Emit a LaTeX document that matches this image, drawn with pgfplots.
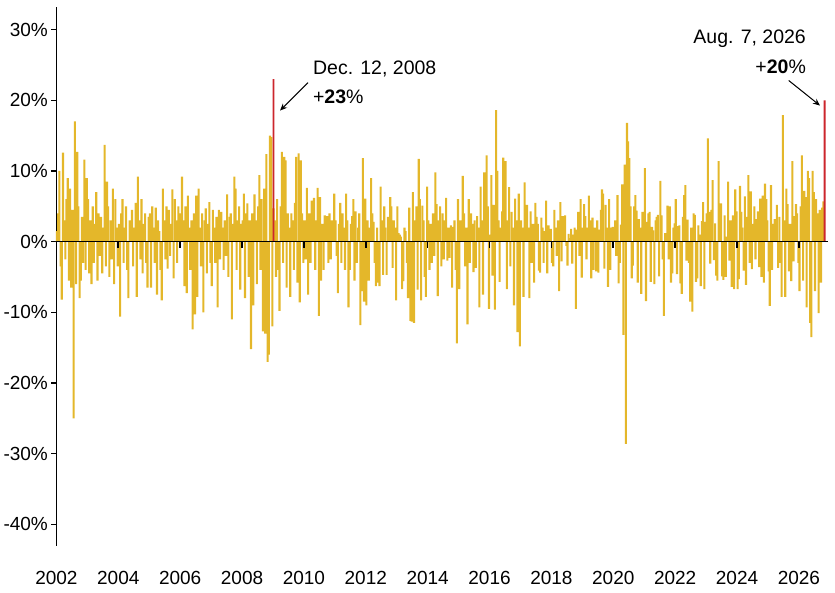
\documentclass[border=0pt]{standalone}
\usepackage{fontspec}
\setmainfont{Liberation Sans}
\usepackage{pgfplots}
\pgfplotsset{compat=1.18}
\usetikzlibrary{arrows.meta}
\definecolor{gold}{RGB}{228,183,42}
\definecolor{redbar}{RGB}{204,38,44}
\begin{document}
\begin{tikzpicture}
\path[use as bounding box] (0,0) rectangle (835bp,593bp);
\begin{axis}[at={(56.4bp,47bp)}, anchor=south west, scale only axis,
  width=771.6bp, height=539bp,
  xmin=2002, xmax=2026.94, ymin=-43.06, ymax=33.2,
  axis x line*=bottom, axis y line*=left,
  x axis line style={draw=none}, xtick style={draw=none},
  y axis line style={line width=1.4bp},
  ytick={-40,-30,-20,-10,0,10,20,30},
  yticklabels={-40\%,-30\%,-20\%,-10\%,0\%,10\%,20\%,30\%},
  ytick style={line width=1.2bp, black}, tick align=outside, major tick length=5bp,
  xtick={2002,2004,2006,2008,2010,2012,2014,2016,2018,2020,2022,2024,2026},
  xticklabels={2002,2004,2006,2008,2010,2012,2014,2016,2018,2020,2022,2024,2026},
  tick label style={font=\fontsize{19bp}{22bp}\selectfont, text=black},
  xticklabel style={yshift=-17bp},
  clip=false,
]
\addplot[ybar, bar width=2.1bp, bar shift=0bp, fill=gold, draw=none, mark=none] table[row sep=\\, x expr=2002.02+\coordindex/26, y index=0] {v\\
1.5\\ 4\\ 10\\ -3.5\\ -8.2\\ 12.6\\ 3\\ -2.5\\ 6\\ 9\\ -5.5\\ 7.5\\ -6.5\\ 4.5\\ -25\\ 17\\ -6\\ 12.7\\ 5\\ -8\\ -5.5\\ 3.5\\ -3\\ 11.6\\ -4\\ 9\\
6\\ -4.5\\ 3\\ -6\\ 5\\ -3\\ 2.5\\ 7\\ -5.5\\ 4\\ -2\\ 3.5\\ -4.5\\ 2\\ 13.7\\ -3.5\\ 8.5\\ 5\\ -5\\ 3\\ -2.5\\ 7.5\\ -6\\ 6\\ 2\\ -3.5\\
2.5\\ -10.6\\ 4\\ 6\\ -3\\ 2\\ 5\\ -4\\ -8\\ 3\\ 1.5\\ 4.5\\ -3.5\\ 2\\ 5.5\\ -7.8\\ 9.2\\ 3\\ -2.5\\ 6\\ -4.5\\ 2.5\\ 4\\ -3\\ -6.5\\ 3.5\\
4\\ -6.5\\ 5\\ 2\\ -3\\ 4.8\\ -7.5\\ 3\\ 1.5\\ -4\\ -8.3\\ 7.5\\ 3\\ -2.5\\ 5\\ -3.8\\ 4.5\\ -2\\ 2.5\\ 7.4\\ -5.2\\ 6\\ 3\\ -3\\ 5\\ 2\\
4\\ 9.2\\ 3\\ -6.3\\ 5\\ -7.3\\ 6.5\\ 2\\ -4\\ 3\\ -12.4\\ 4\\ -10.3\\ 6.5\\ -7.8\\ 7.5\\ 2\\ -3.5\\ 4\\ -10\\ 3\\ 4.7\\ -4.5\\ 2.5\\ 5.6\\ -3\\
-6.3\\ 4.5\\ 2\\ -3\\ 3.5\\ -9.3\\ 4.5\\ -2.5\\ 4.2\\ 2\\ -4\\ 3\\ -2\\ 6.7\\ -5\\ 3.5\\ 4\\ -11\\ 2.5\\ 9.2\\ 7.5\\ -4\\ 3\\ 5\\ -6.8\\ 2.5\\
3\\ 6.8\\ -8\\ 4\\ 5.4\\ -5\\ 3\\ -15.2\\ 4\\ -9\\ 6.7\\ 3\\ -6\\ 5\\ 9.4\\ -4\\ 6\\ -12.7\\ 7.5\\ -13\\ 12.4\\ -17\\ -16\\ 15\\ 14.8\\ -12\\
4.7\\ 3\\ -5\\ 6\\ -4\\ -9.8\\ 5\\ 12.7\\ -3\\ 12\\ 11.5\\ -6.5\\ 4\\ 2\\ -7.8\\ 4\\ 3\\ -4\\ 5.5\\ 12\\ -5.8\\ 12.5\\ -8.6\\ 11.5\\ 4\\ -3\\
3\\ -2.5\\ 7.6\\ -7.5\\ 4\\ -3\\ 5.8\\ 2\\ 6.2\\ -4\\ 3\\ 7.6\\ -10.5\\ 6.3\\ -5.5\\ 2.5\\ -4\\ 3.7\\ 2\\ 3.6\\ -3\\ 4\\ -2.5\\ 3\\ 1.5\\ 6.8\\
3\\ -2\\ -7.3\\ 2.5\\ 5.5\\ -3\\ 4\\ 2\\ -4\\ 6.8\\ 3\\ -9.3\\ -4\\ 2.5\\ 3.6\\ 6\\ -5.5\\ 4.3\\ -3\\ 2\\ 4\\ -11.8\\ -7\\ 11.8\\ -8.5\\ 6.1\\
-9\\ 3\\ -5.5\\ 2\\ 9\\ 4\\ 2.8\\ -3\\ -6.3\\ 2\\ -5.8\\ -6.3\\ 7.8\\ 3\\ -4.7\\ 5\\ 2\\ -4.7\\ 3.5\\ 2\\ 6.3\\ 5\\ -3.7\\ 3\\ 2\\ -8.3\\
5\\ 1.2\\ 1\\ 0.7\\ -6.7\\ -5.6\\ 2\\ 1.5\\ -3\\ -8\\ 4.8\\ -11.2\\ -11.3\\ 7\\ -11.5\\ 3\\ 5\\ -6.8\\ 11.7\\ 6\\ -8.3\\ 5.1\\ 3\\ -5\\ -7.8\\ 7.8\\
3\\ -4\\ 2.5\\ -3\\ 4\\ -2\\ 9.8\\ 5.3\\ -7.7\\ 3\\ 5\\ -3.5\\ 4\\ -2.5\\ 3\\ 6.2\\ -2.7\\ 2\\ -2.3\\ 2.3\\ -6.5\\ 2.1\\ 3\\ -4\\ -14.4\\ 6\\
-6.7\\ 3\\ 2\\ 9.3\\ 4\\ -3.5\\ 2\\ -11.7\\ 6\\ -3\\ 4\\ 2.5\\ -4.3\\ 3\\ -3.7\\ 3.6\\ 2\\ -9.3\\ 7.8\\ 3\\ -7.5\\ 9.8\\ 4\\ 12.2\\ 5\\ -9.5\\
1\\ 9.4\\ -4.8\\ 5.2\\ -9.6\\ 18.6\\ 10\\ 3\\ -5.7\\ 2\\ 4.3\\ 11.9\\ 5.2\\ 11.4\\ -6.7\\ 3\\ 7.7\\ -3.5\\ 4.2\\ 2\\ -9\\ 6.1\\ 3\\ -12.8\\ 6.8\\ -14.8\\
3\\ 2\\ -7.8\\ 8.4\\ 2.5\\ 5.2\\ 2\\ -8\\ 4.3\\ -3\\ 2.5\\ -5.8\\ 5.5\\ 3.5\\ 2.5\\ -4.1\\ -4.4\\ 3.4\\ 2\\ -3\\ 1.5\\ 5.8\\ -4.5\\ 2.3\\ 0.9\\ 1.8\\
-3\\ -3.5\\ 4.5\\ 2\\ -2\\ 3\\ -7\\ 5.6\\ -2.8\\ 3.6\\ 2\\ 3.7\\ -0.6\\ -3.4\\ 1.1\\ 0.5\\ 1.8\\ -3.1\\ 1\\ 2\\ -9.5\\ 1.7\\ 4.2\\ -2\\ 6\\ -5.1\\
2\\ 5.3\\ 3.6\\ -2.5\\ 2\\ 6.5\\ 3\\ -5.2\\ 3.4\\ -4\\ 2\\ -4.2\\ 3\\ -4.4\\ 1.7\\ 4.5\\ 7.4\\ 6.8\\ -3.8\\ 5.2\\ 2\\ -6.4\\ 6\\ -4\\ 2\\ 2.1\\
2\\ 3\\ -2\\ 6.6\\ -5.9\\ -3\\ 2.4\\ 8.1\\ -13.2\\ 10.9\\ -28.6\\ 16.8\\ 14.2\\ 11.8\\ 5\\ -5.2\\ -3.4\\ 5\\ 6.6\\ 4.4\\ -5.8\\ 3.2\\ 2\\ -7.4\\ 4.2\\ 3\\
10.4\\ -8.4\\ 2.8\\ 4\\ 4.2\\ -5.7\\ 2.1\\ 1.6\\ -6\\ 3\\ 3.5\\ 3.8\\ -4.9\\ 8.6\\ 3.7\\ -2.5\\ -10.5\\ 1.2\\ 0.5\\ 5.1\\ -2.5\\ 5\\ -5.8\\ -4.5\\ 2\\ 2.6\\
6\\ -4.6\\ 2.2\\ 2.3\\ -5.9\\ -7.4\\ 3.5\\ 6.6\\ 8\\ -2.7\\ 3.1\\ -3\\ -8.5\\ 2\\ -9.9\\ 4\\ 3.8\\ -5.7\\ -5.2\\ 2.3\\ 1\\ -6.3\\ 2.9\\ 5.6\\ -6.7\\ 2.8\\
4\\ 14.6\\ 4.2\\ -3.1\\ 4.5\\ 8.7\\ -2.6\\ 2.6\\ -4.8\\ -5.5\\ 11.4\\ 5.4\\ 5.4\\ -4.9\\ -5.4\\ 3.7\\ -5\\ 0.7\\ 8.5\\ -2.7\\ 3\\ -6.4\\ 3.7\\ -6.7\\ 7.4\\ 4.3\\
-6.7\\ -5.3\\ 7.9\\ 4.2\\ 2\\ -4.1\\ 6.4\\ -6.1\\ 3.5\\ 9.4\\ -3\\ 7.1\\ -3.9\\ 2.5\\ 5\\ -2.5\\ 3.2\\ 4.3\\ -3.6\\ 6.1\\ -5\\ 6.5\\ -5.8\\ 8.2\\ 6\\ 3\\
-4.2\\ -9.1\\ 8\\ -4\\ 2.5\\ 3.2\\ 2\\ 5.2\\ -3.7\\ 3.5\\ -3\\ -7.8\\ 17.9\\ 3\\ -7.8\\ 7.5\\ 5.3\\ -4.2\\ 2.5\\ -5.6\\ 11.4\\ -2.8\\ 3.6\\ 5.3\\ 4\\ -3\\
-7\\ 5\\ 12.2\\ -5.5\\ 7.2\\ 6.3\\ -9.3\\ 10\\ 9\\ -11.5\\ -13.5\\ 10\\ 7\\ -7\\ 6\\ 4\\ -10.1\\ 4.5\\ -5.8\\ 4.8\\ 5.7\\
};
\addplot[ybar, bar width=1.8bp, bar shift=0bp, fill=redbar, draw=none, mark=none] coordinates {(2009.02,23) (2026.83,20)};
\draw[line width=1.6bp] (axis cs:2002,0) -- (axis cs:2026.94,0);
\pgfplotsinvokeforeach{2004,2006,2008,2010,2012,2014,2016,2018,2020,2022,2024,2026}{\draw[line width=1.6bp] (axis cs:#1,0) -- ++(0bp,-6bp);}
\node[anchor=base west, inner sep=0, font=\fontsize{19.5bp}{22bp}\selectfont] at (axis cs:2010.29,23.7) {Dec. 12, 2008};
\node[anchor=base west, inner sep=0, font=\fontsize{19.5bp}{22bp}\selectfont] at (axis cs:2010.29,19.6) {+\textbf{23}\%};
\draw[-{Stealth[length=7bp,width=6bp]}, line width=1bp] (axis cs:2010.13,22.5) -- (axis cs:2009.23,18.55);
\node[anchor=base east, inner sep=0, font=\fontsize{19.5bp}{22bp}\selectfont] at (axis cs:2026.23,28.1) {Aug. 7, 2026};
\node[anchor=base east, inner sep=0, font=\fontsize{19.5bp}{22bp}\selectfont] at (axis cs:2026.23,23.86) {+\textbf{20}\%};
\draw[-{Stealth[length=7bp,width=6bp]}, line width=1bp] (axis cs:2025.67,22.8) -- (axis cs:2026.68,19.26);
\end{axis}
\end{tikzpicture}
\end{document}
